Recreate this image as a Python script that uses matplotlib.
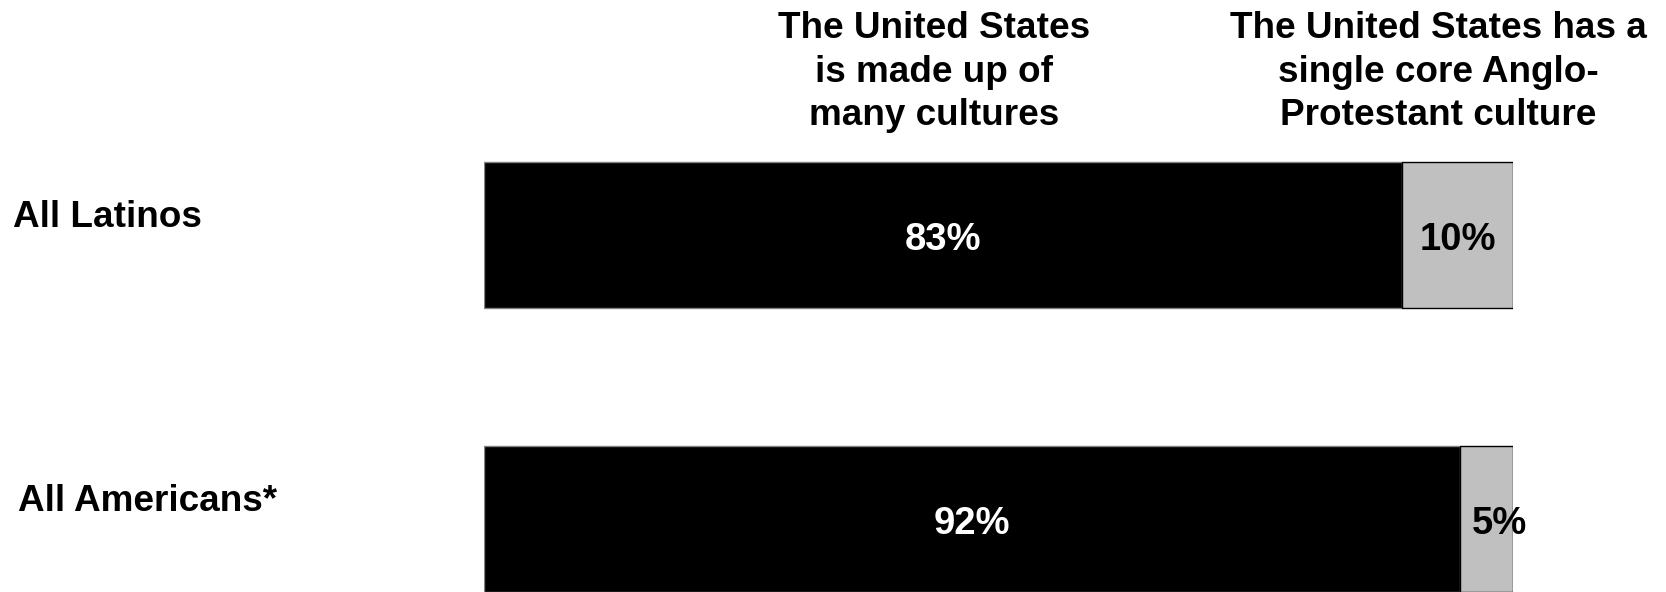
import matplotlib.pyplot as plt
import numpy as np
from matplotlib.transforms import blended_transform_factory

plt.rcParams['font.family'] = ['Liberation Sans', 'DejaVu Sans']

# Data
groups = ["All Latinos", "All Americans*"]
many_cultures = [83, 92]
anglo_core = [10, 5]
headers = ["The United States\nis made up of\nmany cultures",
           "The United States has a\nsingle core Anglo-\nProtestant culture"]

many = np.array(many_cultures, dtype=float)
anglo = np.array(anglo_core, dtype=float)
total = many + anglo
many_share = many / total
anglo_share = anglo / total

fig = plt.figure(figsize=(16.66, 5.92), dpi=100)
ax = fig.add_axes([0.2908, 0.0, 0.6174, 1.0])

y = np.arange(len(groups))
h = 0.516
ax.barh(y, many_share, height=h, color="#000000", edgecolor="#808080", linewidth=1)
ax.barh(y, anglo_share, left=many_share, height=h, color="#C0C0C0",
        edgecolor="#000000", linewidth=1)

# Value labels
for i in range(len(groups)):
    ax.text(many_share[i] / 2, y[i] + 0.018, f"{many_cultures[i]}%", ha="center", va="center",
            color="white", fontsize=27.5, fontweight="bold")
    ax.text(many_share[i] + anglo_share[i] / 2 + (0.013 if anglo_core[i] < 8 else 0), y[i] + 0.018,
            f"{anglo_core[i]}%", ha="center", va="center",
            color="black", fontsize=27.5, fontweight="bold")

# Group labels on the left
fig_data = blended_transform_factory(fig.transFigure, ax.transData)
label_x = [13 / 1666, 18 / 1666]
for i, g in enumerate(groups):
    ax.text(label_x[i], y[i] - 0.062, g, transform=fig_data,
            ha="left", va="center", fontsize=26.6, fontweight="bold")

# Column headers
fig.text(934 / 1666, 1 - 72 / 592, headers[0], ha="center", va="center",
         fontsize=26.6, fontweight="bold", linespacing=1.33)
fig.text(1438.6 / 1666, 1 - 72 / 592, headers[1], ha="center", va="center",
         fontsize=26.6, fontweight="bold", linespacing=1.33)

ax.set_xlim(0, 1)
ax.set_ylim(1.257, -0.8275)
ax.axis("off")

fig.savefig("out.png", dpi=100)
